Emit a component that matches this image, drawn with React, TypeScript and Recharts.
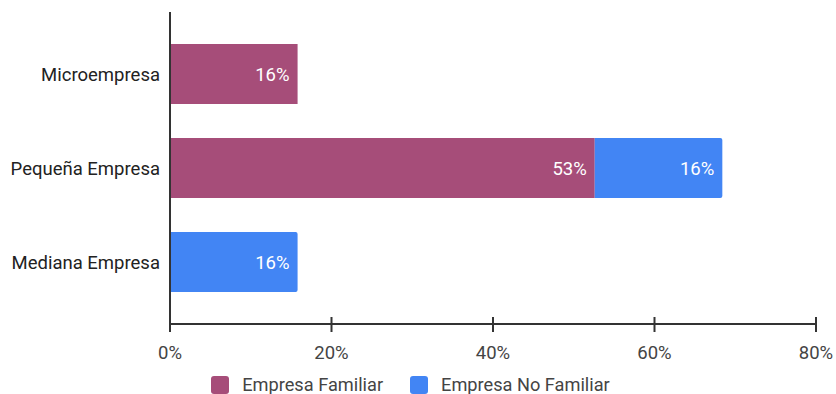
import { BarChart, Bar, XAxis, YAxis, Legend, LabelList } from "recharts";

const categories = ["Microempresa", "Pequeña Empresa", "Mediana Empresa"];
const familiar = [15.8, 52.6, 0];
const noFamiliar = [0, 15.8, 15.8];
const xTicks = [0, 20, 40, 60, 80];

const PINK = "#a64d79";
const BLUE = "#4285f4";
const FONT = "Roboto, 'Liberation Sans', Arial, sans-serif";

const data = categories.map((name, i) => ({
  name,
  familiar: familiar[i] || null,
  noFamiliar: noFamiliar[i] || null,
}));

function XTick(props: any) {
  const { x, y, payload } = props;
  return (
    <g>
      <line x1={x} x2={x} y1={y - 7} y2={y + 8} stroke="#333" strokeWidth={2} />
      <text x={x} y={y + 35} textAnchor="middle" fill="#444" fontSize={18.5} fontFamily={FONT}>
        {payload.value}%
      </text>
    </g>
  );
}

function LegendBox() {
  const items = [
    { label: "Empresa Familiar", color: PINK },
    { label: "Empresa No Familiar", color: BLUE },
  ];
  return (
    <div
      style={{
        display: "flex",
        justifyContent: "center",
        gap: 27,
        fontFamily: FONT,
        fontSize: 18.2,
        color: "#444",
        marginLeft: 5,
        paddingTop: 10,
      }}
    >
      {items.map((it) => (
        <div key={it.label} style={{ display: "flex", alignItems: "center" }}>
          <span
            style={{
              width: 18,
              height: 18,
              background: it.color,
              borderRadius: 3,
              marginRight: 13,
              display: "inline-block",
            }}
          />
          {it.label}
        </div>
      ))}
    </div>
  );
}

const fmt = (v: any) => (v ? `${Math.round(v)}%` : "");

export default function App() {
  return (
    <div style={{ position: "absolute", left: 0, top: 0, background: "#fff" }}>
      <BarChart
        width={836}
        height={394}
        data={data}
        layout="vertical"
        margin={{ top: 12, right: 20, bottom: 0, left: 0 }}
      >
        <XAxis
          type="number"
          domain={[0, 80]}
          ticks={xTicks}
          tick={<XTick />}
          tickLine={false}
          tickSize={0}
          tickMargin={0}
          axisLine={{ stroke: "#333", strokeWidth: 2 }}
          height={40}
        />
        <YAxis
          type="category"
          dataKey="name"
          width={170}
          tickLine={false}
          tickMargin={4}
          axisLine={{ stroke: "#333", strokeWidth: 2 }}
          padding={{ top: 15, bottom: 15 }}
          tick={{ fill: "#222", fontSize: 18.5, fontFamily: FONT }}
        />
        <Legend verticalAlign="bottom" height={30} content={<LegendBox />} />
        <Bar dataKey="familiar" stackId="a" fill={PINK} barSize={60} isAnimationActive={false}>
          <LabelList
            dataKey="familiar"
            position="insideRight"
            offset={8}
            formatter={fmt}
            fill="#fff"
            fontSize={18.5}
            fontFamily={FONT}
          />
        </Bar>
        <Bar
          dataKey="noFamiliar"
          stackId="a"
          fill={BLUE}
          barSize={60}
          radius={[0, 2, 2, 0]}
          isAnimationActive={false}
        >
          <LabelList
            dataKey="noFamiliar"
            position="insideRight"
            offset={8}
            formatter={fmt}
            fill="#fff"
            fontSize={18.5}
            fontFamily={FONT}
          />
        </Bar>
      </BarChart>
    </div>
  );
}
